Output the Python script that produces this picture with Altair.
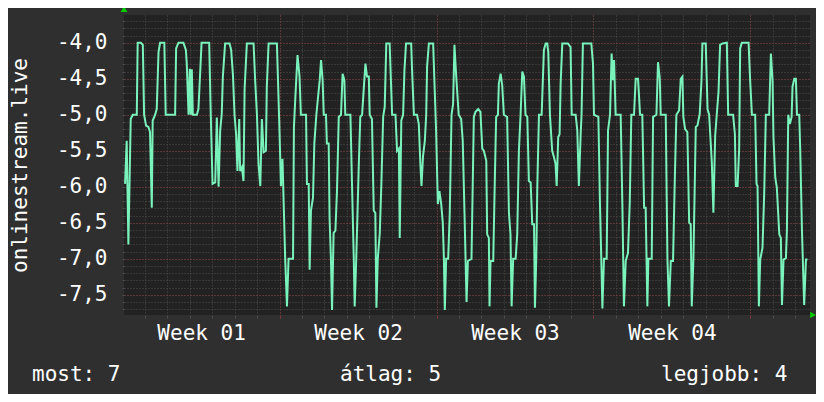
import altair as alt
import pandas as pd

# time in days since start of the graph, and value
days = [0.107,0.18,0.256,0.36,0.45,0.63,0.67,0.81,0.90,0.956,1.045,1.15,1.22,1.30,1.34,1.45,1.52,1.60,1.67,1.86,1.92,2.34,2.385,2.49,2.71,2.82,2.86,2.94,2.995,3.04,3.085,3.13,3.31,3.38,3.46,3.52,3.86,3.93,4.01,4.13,4.20,4.28,4.35,4.42,4.47,4.57,4.77,4.84,4.92,4.99,5.06,5.12,5.20,5.24,5.32,5.39,5.44,5.54,5.84,5.91,5.99,6.06,6.14,6.21,6.29,6.39,6.43,6.51,6.88,6.93,7.0,7.06,7.13,7.18,7.25,7.33,7.40,7.60,7.64,7.70,7.80,7.89,7.95,8.18,8.22,8.30,8.34,8.40,8.49,8.55,8.64,8.79,8.85,8.92,8.97,9.07,9.11,9.19,9.23,9.29,9.34,9.41,9.49,9.56,9.64,9.74,9.81,9.89,9.93,10.16,10.23,10.31,10.35,10.42,10.53,10.60,10.68,10.78,10.83,10.90,10.98,11.02,11.12,11.20,11.27,11.32,11.38,11.47,11.54,11.62,11.69,11.76,11.91,11.94,12.02,12.17,12.24,12.32,12.36,12.43,12.51,12.57,12.64,12.87,12.91,12.99,13.13,13.21,13.28,13.33,13.40,13.48,13.54,13.58,13.66,13.85,13.91,13.98,14.06,14.13,14.21,14.28,14.33,14.37,14.43,14.52,14.59,14.67,14.74,14.80,14.88,14.99,15.10,15.17,15.25,15.34,15.40,15.56,15.59,15.665,15.74,15.86,15.96,16.04,16.11,16.22,16.26,16.335,16.365,16.41,16.53,16.60,16.66,16.74,16.78,16.86,16.93,17.005,17.15,17.23,17.30,17.35,17.42,17.53,17.60,17.675,17.75,17.825,17.90,17.97,18.05,18.12,18.20,18.27,18.35,18.39,18.45,18.495,18.57,18.69,18.79,18.87,18.94,18.985,19.06,19.16,19.24,19.31,19.36,19.43,19.49,19.536,19.61,19.86,19.98,20.03,20.206,20.28,20.35,20.43,20.47,20.53,20.905,20.98,21.025,21.22,21.29,21.35,21.40,21.47,21.59,21.65,21.74,21.81,21.87,21.92,21.99,22.215,22.29,22.36,22.44,22.54,22.62,22.69,22.81,22.885,22.99,23.08,23.18,23.26,23.33,23.405,23.45,23.60,23.66,23.81,23.88,23.96,24.00,24.225,24.30,24.37,24.45,24.55,24.63,24.70,24.82,24.895,24.97,25.01,25.09,25.19,25.27,25.34,25.385,25.46,25.565,25.64,25.74,25.82,25.86,26.01,26.09,26.16,26.28,26.35,26.43,26.50,26.58,26.65,26.76,26.95,27.01,27.23,27.31,27.35,27.43,27.50,27.545,27.62,27.92,27.99,28.07,28.215,28.275,28.32,28.38,28.44,28.54,28.62,28.69,28.84,28.915,28.99,29.03,29.11,29.18,29.29,29.36,29.41,29.48,29.585,29.63,29.69,29.76,29.84,29.88,29.96,30.03,30.08,30.18,30.225,30.30,30.40,30.48,30.55]
values = [-5.96,-5.36,-6.80,-5.06,-5.0,-5.0,-4.0,-4.0,-4.03,-5.0,-5.15,-5.17,-5.24,-6.29,-5.08,-5.0,-4.92,-4.13,-4.0,-4.0,-5.0,-5.0,-4.08,-4.0,-4.0,-4.10,-4.29,-5.0,-4.36,-5.0,-4.37,-5.0,-5.0,-4.92,-4.40,-4.0,-4.0,-5.0,-5.96,-5.94,-5.04,-6.0,-5.22,-4.99,-4.47,-4.01,-4.01,-4.10,-4.45,-5.0,-5.27,-5.78,-5.06,-5.78,-5.73,-5.92,-4.64,-4.01,-4.01,-4.52,-5.0,-5.68,-5.99,-5.06,-5.52,-5.50,-4.61,-4.01,-4.01,-4.52,-5.27,-5.99,-5.61,-6.20,-7.0,-7.66,-7.0,-7.0,-5.17,-4.78,-4.17,-4.47,-5.0,-5.0,-5.96,-5.96,-7.15,-6.33,-6.15,-5.40,-5.0,-4.52,-4.24,-4.52,-5.0,-5.0,-5.40,-5.40,-6.43,-7.0,-7.71,-6.64,-6.61,-6.06,-5.03,-5.0,-4.43,-4.52,-5.0,-5.0,-5.96,-7.0,-7.66,-7.0,-5.73,-5.03,-5.0,-4.52,-4.29,-4.47,-4.47,-5.0,-5.06,-6.33,-6.36,-7.68,-7.0,-6.64,-5.96,-5.03,-4.89,-4.01,-4.01,-4.29,-5.0,-5.0,-5.50,-5.47,-6.71,-5.08,-5.0,-4.38,-4.01,-4.01,-4.38,-5.0,-5.0,-5.13,-5.68,-5.99,-5.57,-5.36,-5.0,-4.33,-4.01,-4.01,-4.57,-5.20,-6.24,-6.06,-6.24,-6.50,-7.0,-7.71,-7.0,-7.0,-6.38,-5.0,-4.85,-4.03,-4.47,-5.0,-5.06,-5.36,-6.38,-7.60,-7.03,-7.0,-6.45,-5.03,-4.96,-4.92,-4.96,-5.47,-5.50,-5.64,-6.66,-6.71,-7.66,-7.03,-7.03,-5.92,-5.03,-5.0,-4.57,-4.43,-4.59,-5.0,-5.03,-6.36,-6.66,-7.66,-7.0,-7.0,-6.66,-5.50,-5.0,-4.40,-4.47,-5.0,-5.03,-5.92,-5.94,-6.52,-6.52,-7.68,-7.0,-6.01,-5.0,-5.0,-4.10,-4.01,-4.01,-4.13,-5.0,-5.50,-5.59,-5.68,-5.99,-5.31,-5.27,-4.57,-4.01,-4.01,-4.06,-5.0,-5.0,-5.22,-5.99,-5.27,-5.0,-4.01,-4.01,-4.29,-5.0,-5.03,-6.22,-7.0,-7.69,-7.0,-7.0,-5.22,-5.0,-4.15,-4.52,-4.24,-5.0,-5.0,-6.24,-7.66,-7.03,-6.92,-6.22,-5.0,-5.0,-4.50,-4.50,-5.0,-5.0,-6.29,-6.29,-7.66,-7.0,-7.0,-5.03,-5.0,-4.27,-4.50,-5.0,-5.0,-7.0,-7.66,-7.03,-7.03,-5.89,-5.0,-4.94,-4.50,-4.47,-5.03,-5.20,-5.24,-6.50,-6.52,-7.66,-7.0,-5.17,-5.15,-4.99,-4.52,-4.01,-4.01,-4.92,-5.0,-5.66,-6.36,-5.29,-5.0,-4.68,-4.03,-4.01,-4.0,-5.0,-5.0,-5.27,-5.99,-5.99,-5.47,-4.08,-4.0,-4.0,-4.52,-5.0,-5.0,-5.96,-5.99,-7.66,-7.01,-6.85,-6.06,-5.0,-5.0,-4.15,-4.52,-5.31,-5.87,-6.01,-6.66,-6.71,-7.64,-7.01,-6.99,-6.61,-5.0,-5.13,-5.03,-4.61,-4.50,-4.50,-5.0,-5.0,-5.50,-6.59,-7.64,-7.01,-7.01]

week_labels = ["Week 01", "Week 02", "Week 03", "Week 04"]
week_label_pos = [3.5, 10.5, 17.5, 24.5]
week_bounds = [7, 14, 21, 28]
day_ticks = list(range(0, 31))
y_minor = [round(-7.7 + 0.1 * i, 1) for i in range(41)]
y_major = [-7.5, -7.0, -6.5, -6.0, -5.5, -5.0, -4.5, -4.0]
footer = [("most: 7", -92), ("átlag: 5", 216), ("legjobb: 4", 537)]

FONT = "DejaVu Sans Mono"
BG = "#2f2f2f"
PLOT_BG = "#222222"
MINOR = "#4e4e4e"
MAJOR = "#803636"
LINE = "#7af2bb"

df = pd.DataFrame({"day": days, "value": values})

xscale = alt.Scale(domain=[0.06, 30.66], nice=False, zero=False)
yscale = alt.Scale(domain=[-7.78, -3.615], nice=False, zero=False)

label_expr_x = "[" + ",".join("'%s'" % w for w in week_labels) + "][round((datum.value-3.5)/7)]"
label_expr_y = "(datum.value<0?'-':'') + replace(format(abs(datum.value),'.1f'),'.',',')"

base = alt.Chart(df)

line = base.mark_line(color=LINE, strokeWidth=2, interpolate="linear").encode(
    x=alt.X("day:Q", scale=xscale, axis=alt.Axis(
        orient="bottom", values=day_ticks, grid=True, gridColor=MINOR, gridDash=[1, 2],
        gridWidth=1, labels=False, domain=False, ticks=True, tickColor=MINOR,
        tickSize=3, title=None)),
    y=alt.Y("value:Q", scale=yscale, axis=alt.Axis(
        orient="left", values=y_minor, grid=True, gridColor=MINOR, gridDash=[1, 2],
        gridWidth=1, labels=False, domain=False, ticks=True, tickColor=MINOR,
        tickSize=2, title="onlinestream.live", titleFont=FONT, titleFontSize=21,
        titleFontWeight="normal", titleColor="#ffffff", titleAngle=270,
        titleX=-98, titleY=150, titleAlign="center", titleBaseline="alphabetic")),
)

major = base.mark_point(opacity=0).encode(
    x=alt.X("day:Q", scale=xscale, axis=alt.Axis(
        orient="bottom", values=week_bounds, grid=True, gridColor=MAJOR, gridDash=[1, 2],
        gridWidth=1, labels=False, domain=False, ticks=True, tickColor=MAJOR,
        tickSize=3, title=None)),
    y=alt.Y("value:Q", scale=yscale, axis=alt.Axis(
        orient="left", values=y_major, grid=True, gridColor=MAJOR, gridDash=[1, 2],
        gridWidth=1, labels=True, labelExpr=label_expr_y, labelFont=FONT,
        labelFontSize=21, labelColor="#ffffff", labelPadding=17, labelAlign="right",
        labelBaseline="middle", domain=False, ticks=False, tickSize=0, title=None)),
)

labels = base.mark_point(opacity=0).encode(
    x=alt.X("day:Q", scale=xscale, axis=alt.Axis(
        orient="bottom", values=week_label_pos, grid=False, labels=True,
        labelExpr=label_expr_x, labelFont=FONT, labelFontSize=21, labelColor="#ffffff",
        labelPadding=24, labelBaseline="alphabetic", labelAlign="center",
        domain=False, ticks=False, tickSize=0, title=None)),
    y=alt.Y("value:Q", scale=yscale, axis=None),
)

one = pd.DataFrame({"k": [0]})
texts = []
for txt, xpos in footer:
    texts.append(
        alt.Chart(one).mark_text(font=FONT, fontSize=21, color="#ffffff",
                                 align="left", baseline="alphabetic").encode(
            x=alt.value(xpos), y=alt.value(366), text=alt.value(txt))
    )

arrow_up = alt.Chart(one).mark_point(shape="triangle-up", filled=True, color="#00cc00",
                                     size=45, opacity=1).encode(
    x=alt.value(0), y=alt.value(-6))
arrow_right = alt.Chart(one).mark_point(shape="triangle-right", filled=True, color="#00cc00",
                                        size=45, opacity=1).encode(
    x=alt.value(689), y=alt.value(300))

chart = alt.layer(line, major, labels, *texts, arrow_up, arrow_right).resolve_axis(
    x="independent", y="independent"
).properties(
    width=686, height=300,
    autosize=alt.AutoSizeParams(type="none"),
    padding={"left": 116, "top": 7, "right": 6, "bottom": 79},
    background=BG,
).configure_view(fill=PLOT_BG, stroke=None)

chart.save("out.html", embed_options={"renderer": "svg", "actions": False})
